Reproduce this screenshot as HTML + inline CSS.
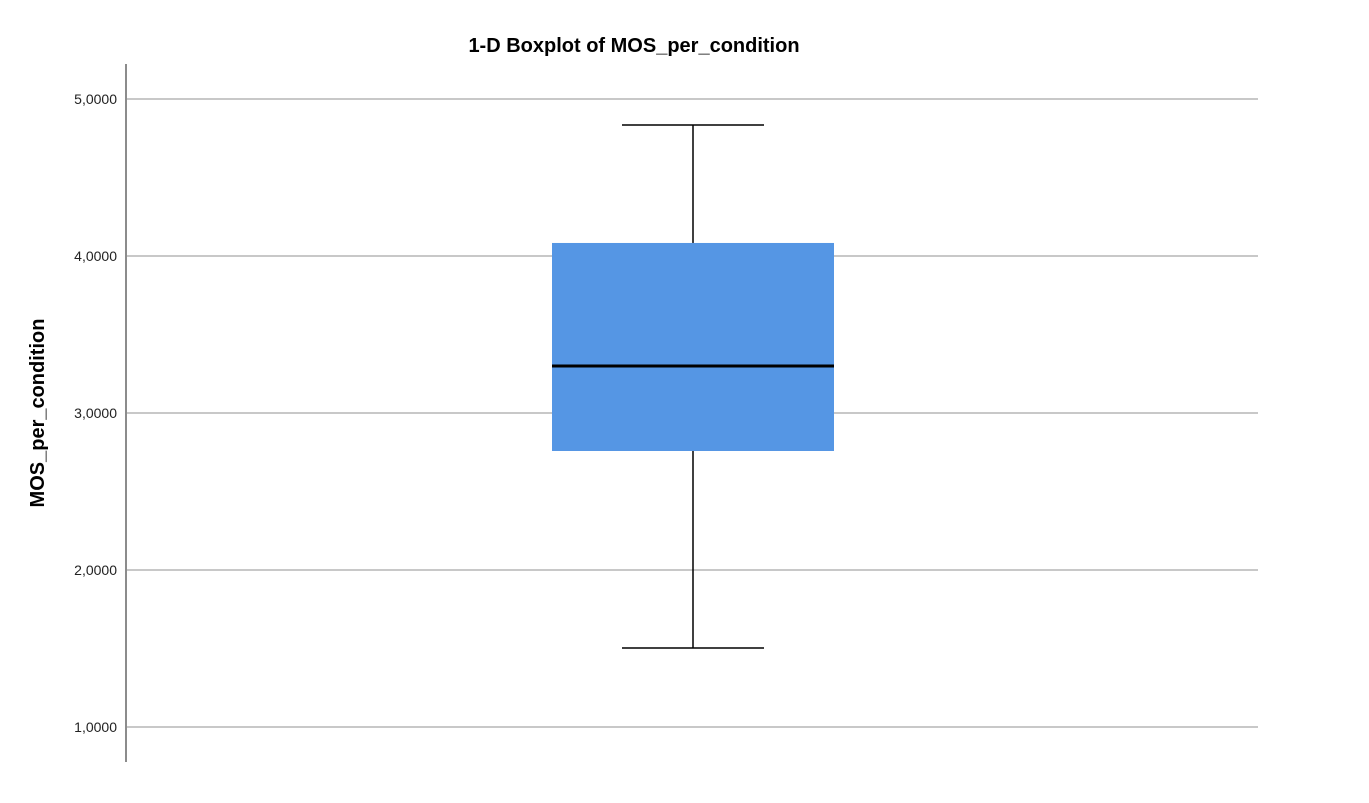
<!DOCTYPE html>
<html><head><meta charset="utf-8"><style>
html,body{margin:0;padding:0;background:#fff;width:1369px;height:803px;overflow:hidden}
svg text{font-family:"Liberation Sans",Arial,sans-serif}
</style></head><body>
<svg id="chart" width="1369" height="803">
<text x="634" y="52" text-anchor="middle" font-size="20" font-weight="bold" fill="#000">1-D Boxplot of MOS_per_condition</text>
<text transform="translate(44,413) rotate(-90)" text-anchor="middle" font-size="20" font-weight="bold" fill="#000">MOS_per_condition</text>
<g id="grid"></g>
<line x1="126" y1="64" x2="126" y2="762" stroke="#8c8c8c" stroke-width="2"/>
<g id="marks"></g>
</svg>
<script>
const yTicks=[1,2,3,4,5];
const yTickLabels=["1,0000","2,0000","3,0000","4,0000","5,0000"];
const boxStats=[1.503,2.758,3.299,4.083,4.834]; // min,q1,median,q3,max
const ns="http://www.w3.org/2000/svg";
function y(v){return 99+(5-v)*157;}
const cx=693;
function mk(tag,attrs,parent){const e=document.createElementNS(ns,tag);for(const k in attrs)e.setAttribute(k,attrs[k]);parent.appendChild(e);return e;}
const grid=document.getElementById('grid'),marks=document.getElementById('marks');
yTicks.forEach((t,i)=>{
  const l=mk('line',{x1:126,x2:1258,y1:y(t),y2:y(t),stroke:'#c8c8c8','stroke-width':2},grid);
  
  
  const tx=mk('text',{x:117,y:y(t)+5,'text-anchor':'end','font-size':14,fill:'#222'},grid);
  tx.textContent=yTickLabels[i];
  
  
});
const [mn,q1,md,q3,mx]=boxStats;
const w1=mk('line',{x1:cx,x2:cx,y1:y(mx),y2:y(q3),stroke:'#000','stroke-width':1.5},marks);


const w2=mk('line',{x1:cx,x2:cx,y1:y(q1),y2:y(mn),stroke:'#000','stroke-width':1.5},marks);


const c1=mk('line',{x1:622,x2:764,y1:y(mx),y2:y(mx),stroke:'#000','stroke-width':1.5},marks);


const c2=mk('line',{x1:622,x2:764,y1:y(mn),y2:y(mn),stroke:'#000','stroke-width':1.5},marks);


const b=mk('rect',{x:552,width:282,y:y(q3),height:y(q1)-y(q3),fill:'#5596e4'},marks);


const m=mk('line',{x1:552,x2:834,y1:y(md),y2:y(md),stroke:'#000','stroke-width':3},marks);


</script>
</body></html>
